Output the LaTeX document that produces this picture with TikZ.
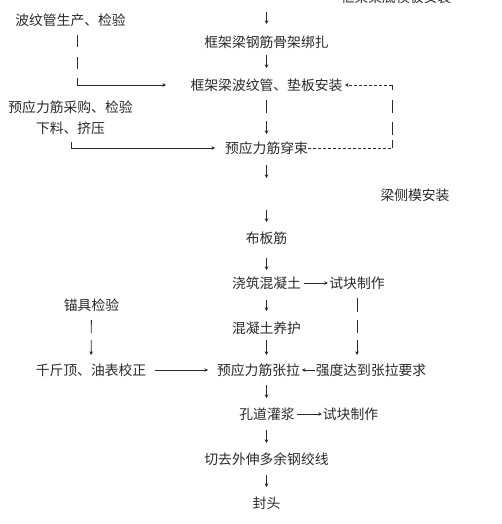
\documentclass[tikz,border=0pt]{standalone}
\usepackage{fontspec}
\newfontfamily\cjk{Noto Sans CJK SC}
\usetikzlibrary{arrows.meta}
\definecolor{ink}{HTML}{2A2A2A}
\tikzset{
  lbl/.style={inner sep=0pt, outer sep=0pt, font=\cjk\fontsize{13.8pt}{14pt}\selectfont, text=ink},
  ln/.style={draw=ink, line width=0.8pt},
  arr/.style={ln, -{Stealth[length=3.6pt,width=3.6pt]}},
  vs/.style 2 args={shorten <=#1pt, shorten >=#2pt},
  fine/.style={dash pattern=on 3pt off 2pt}
}
\begin{document}
\begin{tikzpicture}[x=1pt,y=-1pt]
\useasboundingbox (0,0) rectangle (502,524);
\fill[white] (0,0) rectangle (502,524);
\clip (0,0) rectangle (502,524);
% nodes
\node[lbl] (n0) at (396,-2.5) {框架梁底模板安装};
\node[lbl] (a) at (70.5,20) {波纹管生产、检验};
\node[lbl] (b) at (266.5,42) {框架梁钢筋骨架绑扎};
\node[lbl] (c) at (266.5,85) {框架梁波纹管、垫板安装};
\node[lbl] (d) at (70.5,107) {预应力筋采购、检验};
\node[lbl] (e) at (70.5,128) {下料、挤压};
\node[lbl] (f) at (266.5,148) {预应力筋穿束};
\node[lbl] (g) at (415,195) {梁侧模安装};
\node[lbl] (h) at (266.5,238) {布板筋};
\node[lbl] (i) at (266.5,283) {浇筑混凝土};
\node[lbl] (j) at (357,283) {试块制作};
\node[lbl] (k) at (91.5,305) {锚具检验};
\node[lbl] (l) at (266.5,328) {混凝土养护};
\node[lbl] (m) at (91,370) {千斤顶、油表校正};
\node[lbl] (nn) at (258.5,370) {预应力筋张拉};
\node[lbl] (o) at (371,370) {强度达到张拉要求};
\node[lbl] (p) at (267,414) {孔道灌浆};
\node[lbl] (q) at (350.5,414) {试块制作};
\node[lbl] (r) at (266.5,459) {切去外伸多余钢绞线};
\node[lbl] (s) at (266.5,503) {封头};
% free-end coordinates
\coordinate (topin) at (266.5,12);
\coordinate (aS) at (77,35);
\coordinate (eS) at (71,142);
\coordinate (loopB) at (392,148);
\coordinate (loopT) at (392,85);
% main column
\draw[arr, shorten >=18pt] (topin) -- (topin |- b.center);
\draw[arr, vs={13}{17}] (b.center) -- (b.center |- c.center);
\draw[arr, vs={15}{14}, dash pattern=on 13pt off 8pt on 40pt] (c.center) -- (c.center |- f.center);
\draw[arr, vs={17}{60}] (f.center) -- (f.center |- h.center);
\draw[arr, vs={62}{16}] (f.center) -- (f.center |- h.center);
\draw[arr, vs={20}{13}] (h.center) -- (h.center |- i.center);
\draw[arr, vs={17}{17}] (i.center) -- (i.center |- l.center);
\draw[arr, vs={12}{15}] (l.center) -- (l.center |- nn.center);
\draw[arr, vs={15}{16}] (l.center |- nn.center) -- (l.center |- p.center);
\draw[arr, vs={16}{16}] (l.center |- p.center) -- (l.center |- r.center);
\draw[arr, vs={16}{16}] (r.center) -- (r.center |- s.center);
% left feeds
\draw[arr, shorten >=24.6pt, dash pattern=on 12pt off 10pt on 12pt off 9pt on 300pt] (aS) |- (c.west);
\draw[arr, shorten >=10pt] (eS) |- (f.west);
\draw[arr, vs={15}{15}, dash pattern=on 13pt off 7pt on 40pt] (k.center |- 91,305) -- (91,370);
\draw[arr, vs={9}{9}] (m.east) -- (nn.west);
% right side
\draw[arr, vs={2.5}{1.5}] (i.east) -- (j.west);
\draw[arr, vs={15}{15}, dash pattern=on 14pt off 8pt on 13pt off 7pt on 40pt] (j.center) -- (j.center |- o.center);
\draw[arr, vs={0.8}{2}] (o.west) -- (nn.east);
\draw[arr, vs={2.4}{1}] (p.east) -- (q.west);
% dashed return loop
\draw[ln, fine] (f.east) -- (loopB);
\draw[ln, dash pattern=on 8pt off 5pt on 13pt off 9pt on 13pt off 10pt on 5pt] (loopB) -- (loopT);
\draw[arr, fine, shorten >=2.6pt] (loopT) -- (c.east);
\end{tikzpicture}
\end{document}
